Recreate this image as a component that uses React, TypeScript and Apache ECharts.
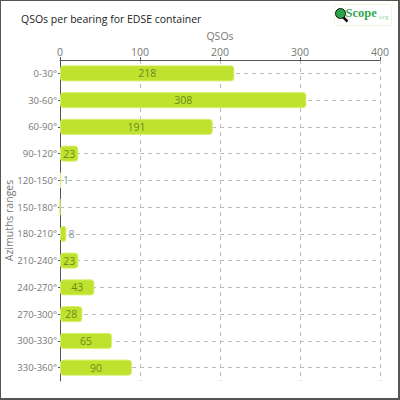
import React, { useEffect, useRef } from "react";
import * as echarts from "echarts";

const categories = ["0-30°", "30-60°", "60-90°", "90-120°", "120-150°", "150-180°", "180-210°", "210-240°", "240-270°", "270-300°", "300-330°", "330-360°"];
const qsos = [218, 308, 191, 23, 1, 0, 8, 23, 43, 28, 65, 90];
const xTicks = [0, 100, 200, 300, 400];

export default function App() {
  const ref = useRef<HTMLDivElement>(null);
  useEffect(() => {
    document.body.style.margin = "0";
    const chart = echarts.init(ref.current!, null, { renderer: "svg" });
    const font = "Open Sans";
    chart.setOption({
      animation: false,
      textStyle: { fontFamily: font },
      title: {
        text: "QSOs per bearing for EDSE container",
        left: 15,
        top: 7,
        textStyle: { fontFamily: font, fontSize: 10.5, fontWeight: "normal", color: "#222" },
      },
      grid: { left: 59, top: 59, right: 18, bottom: 17, containLabel: false, outerBoundsMode: "none" },
      xAxis: {
        type: "value",
        position: "top",
        min: xTicks[0],
        max: xTicks[xTicks.length - 1],
        interval: 100,
        name: "QSOs",
        nameLocation: "middle",
        nameGap: 16,
        nameTextStyle: { color: "#777", fontSize: 10.5, fontFamily: font },
        axisLine: { show: true, lineStyle: { color: "#555" } },
        axisTick: { show: true, length: 3, lineStyle: { color: "#555" } },
        axisLabel: { color: "#777", fontSize: 10.5, margin: 3, fontFamily: font },
        splitLine: { show: true, lineStyle: { color: "#bbb", type: [4, 4] } },
      },
      yAxis: {
        type: "category",
        inverse: true,
        data: categories,
        name: "Azimuths ranges",
        nameLocation: "middle",
        nameGap: 46,
        nameMoveOverlap: false,
        nameTextStyle: { color: "#777", fontSize: 10.5, fontFamily: font },
        axisLine: { show: true, lineStyle: { color: "#555" } },
        axisTick: { show: true, alignWithLabel: true, length: 2, lineStyle: { color: "#555" } },
        axisLabel: { color: "#777", fontSize: 9.5, margin: 3, fontFamily: font },
        splitLine: { show: false },
      },
      series: [
        {
          type: "bar",
          z: 3,
          data: qsos.map((v) => ({
            value: v,
            label: v < 15
              ? { position: "right", distance: 2, color: "#7a98a0" }
              : { position: "inside", color: "#6b8a1e" },
          })),
          barWidth: "60%",
          itemStyle: { color: "#bfe22e", borderColor: "#d8f070", borderWidth: 1, borderRadius: 3 },
          label: {
            show: true,
            fontSize: 10.5,
            fontFamily: font,
            formatter: (p: any) => (p.value === 0 ? "" : String(p.value)),
          },
          markLine: {
            silent: true,
            z: 1,
            symbol: "none",
            label: { show: false },
            lineStyle: { color: "#bbb", type: [4, 4], width: 1 },
            data: categories.map((c) => ({ yAxis: c })),
          },
        },
      ],
      graphic: [
        {
          type: "group",
          left: 333,
          top: 3,
          children: [
            { type: "rect", shape: { x: 0, y: 0, width: 57, height: 21, r: 3 }, style: { fill: "#fff", stroke: "#eef5d8", lineWidth: 1 } },
            { type: "line", shape: { x1: 8, y1: 12, x2: 13, y2: 17 }, style: { stroke: "#111", lineWidth: 2.5 } },
            { type: "circle", shape: { cx: 6, cy: 9, r: 5 }, style: { fill: "#2aa34a", stroke: "#111", lineWidth: 1 } },
            { type: "text", style: { x: 11, y: 2, text: "Scope", fontSize: 12.5, fontWeight: "bold", fill: "#2fa84f", fontFamily: "Liberation Sans Narrow" } },
            { type: "text", style: { x: 43, y: 9, text: ".org", fontSize: 6, fill: "#9fd39f", fontFamily: font } },
          ],
        },
      ],
    });
    return () => chart.dispose();
  }, []);
  return (
    <div
      ref={ref}
      style={{
        width: 400,
        height: 400,
        boxSizing: "border-box",
        borderLeft: "1px solid #555",
        borderTop: "1px solid #555",
        borderRight: "2px solid #555",
        borderBottom: "2px solid #555",
        background: "#fff",
      }}
    />
  );
}
